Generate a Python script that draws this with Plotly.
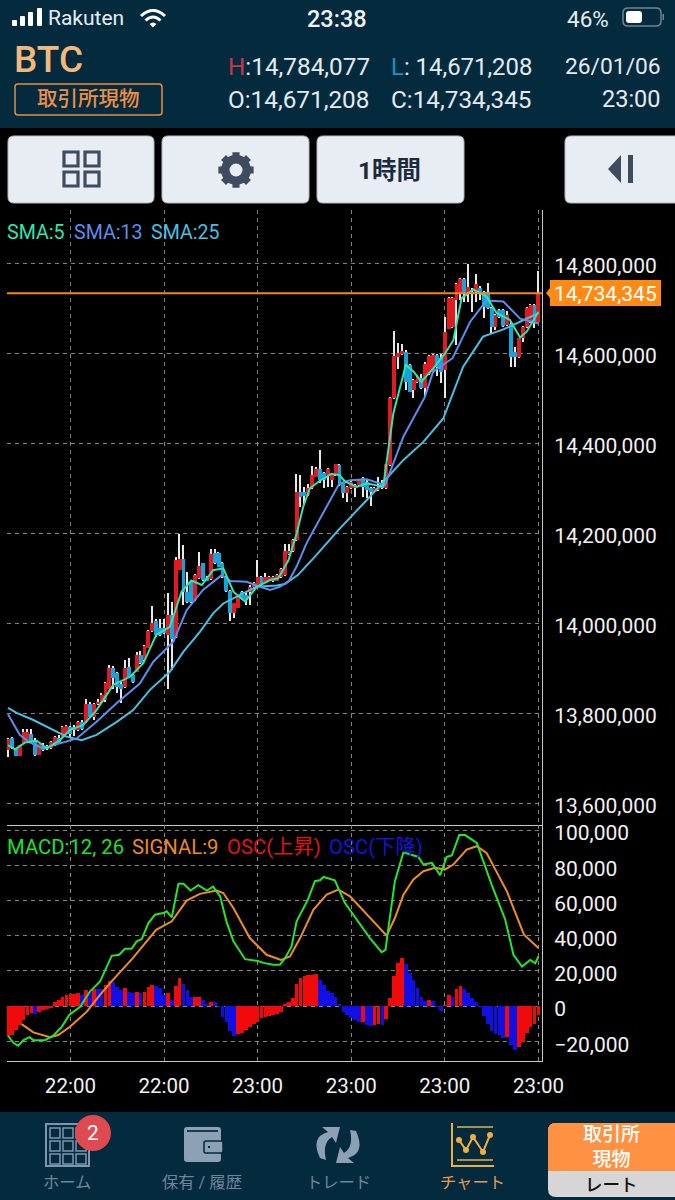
import math
import re

import numpy as np
import plotly.graph_objects as go

# candles, thousand yen
opens = [13719, 13745, 13723, 13706, 13734, 13741, 13756, 13741, 13708, 13728,
         13728, 13723, 13730, 13747, 13749, 13756, 13770, 13770, 13764, 13782,
         13782, 13821, 13793, 13821, 13827, 13830, 13856, 13901, 13890, 13867,
         13860, 13904, 13886, 13893, 13930, 13919, 13947, 13984, 14007, 13990,
         13990, 13975, 14019, 13971, 14119, 14144, 14071, 14093, 14053, 14101,
         14134, 14101, 14099, 14158, 14158, 14134, 14104, 14073, 14023, 14036,
         14071, 14064, 14071, 14082, 14086, 14104, 14093, 14096, 14095, 14096,
         14103, 14108, 14155, 14162, 14186, 14293, 14293, 14286, 14301, 14327,
         14344, 14334, 14330, 14319, 14330, 14353, 14312, 14290, 14301, 14301,
         14308, 14323, 14316, 14301, 14293, 14297, 14312, 14301, 14353, 14501,
         14593, 14599, 14604, 14575, 14519, 14538, 14545, 14523, 14556, 14560,
         14597, 14590, 14564, 14656, 14660, 14719, 14734, 14767, 14738, 14738,
         14738, 14745, 14738, 14738, 14701, 14659, 14697, 14697, 14664, 14667,
         14604, 14593, 14636, 14659, 14671, 14708, 14671.208]
closes = [13743, 13723, 13706, 13730, 13760, 13760, 13738, 13708, 13733, 13719,
          13721, 13738, 13749, 13736, 13771, 13773, 13756, 13764, 13782, 13765,
          13821, 13793, 13821, 13827, 13842, 13869, 13901, 13879, 13860, 13856,
          13902, 13882, 13871, 13930, 13912, 13950, 13984, 14001, 13975, 13975,
          13979, 14019, 13967, 14141, 14143, 14071, 14049, 14049, 14108, 14129,
          14097, 14097, 14156, 14134, 14127, 14104, 14073, 14023, 14045, 14060,
          14056, 14053, 14082, 14090, 14103, 14086, 14103, 14104, 14103, 14109,
          14121, 14162, 14162, 14185, 14293, 14282, 14284, 14301, 14330, 14344,
          14319, 14319, 14344, 14330, 14354, 14308, 14290, 14303, 14316, 14308,
          14319, 14303, 14297, 14293, 14301, 14304, 14301, 14354, 14501, 14595,
          14601, 14607, 14538, 14516, 14541, 14549, 14523, 14578, 14595, 14597,
          14571, 14560, 14649, 14723, 14723, 14756, 14767, 14734, 14749, 14734,
          14754, 14734, 14704, 14701, 14659, 14686, 14682, 14661, 14686, 14593,
          14593, 14634, 14659, 14701, 14708, 14671, 14734.345]
highs = [13745, 13749, 13723, 13731, 13767, 13767, 13767, 13745, 13733, 13734,
         13730, 13740, 13751, 13752, 13773, 13775, 13773, 13774, 13784, 13785,
         13832, 13825, 13823, 13832, 13845, 13871, 13908, 13905, 13893, 13870,
         13919, 13923, 13890, 13938, 13940, 13952, 13985, 14039, 14010, 14010,
         14010, 14069, 14049, 14149, 14199, 14175, 14116, 14095, 14110, 14160,
         14136, 14105, 14167, 14165, 14160, 14138, 14107, 14075, 14047, 14062,
         14073, 14071, 14085, 14093, 14141, 14107, 14112, 14106, 14105, 14111,
         14123, 14178, 14178, 14188, 14332, 14330, 14303, 14310, 14350, 14349,
         14387, 14338, 14347, 14333, 14356, 14356, 14315, 14306, 14318, 14311,
         14322, 14325, 14319, 14304, 14303, 14327, 14319, 14356, 14503, 14650,
         14623, 14621, 14608, 14578, 14544, 14552, 14556, 14581, 14597, 14599,
         14599, 14599, 14682, 14725, 14725, 14758, 14769, 14769, 14799, 14745,
         14777, 14750, 14740, 14758, 14703, 14688, 14700, 14700, 14695, 14670,
         14614, 14636, 14661, 14703, 14710, 14710, 14784.077]
lows = [13704, 13721, 13706, 13705, 13734, 13741, 13736, 13706, 13708, 13717,
        13720, 13722, 13729, 13733, 13748, 13755, 13749, 13750, 13762, 13763,
        13780, 13790, 13786, 13820, 13824, 13825, 13855, 13856, 13845, 13824,
        13858, 13880, 13868, 13892, 13910, 13917, 13945, 13982, 13971, 13973,
        13977, 13856, 13897, 13969, 14119, 14041, 14047, 14047, 14051, 14099,
        14095, 14094, 14097, 14132, 14125, 14102, 14071, 14006, 14013, 14034,
        14053, 14041, 14041, 14080, 14083, 14084, 14091, 14094, 14093, 14095,
        14101, 14106, 14153, 14160, 14184, 14260, 14267, 14284, 14299, 14325,
        14312, 14301, 14303, 14304, 14328, 14306, 14279, 14271, 14299, 14281,
        14306, 14281, 14279, 14261, 14291, 14295, 14299, 14299, 14351, 14499,
        14565, 14597, 14519, 14514, 14501, 14536, 14521, 14504, 14553, 14557,
        14550, 14534, 14501, 14654, 14658, 14619, 14719, 14716, 14716, 14693,
        14716, 14720, 14679, 14699, 14645, 14653, 14680, 14659, 14662, 14570,
        14570, 14591, 14627, 14657, 14669, 14658, 14671.208]

sma5_x = [0, 1.8, 4.4, 7.4, 9.9, 13.3, 15.9, 19.3, 22.7, 27, 31.3, 34.7, 38, 41.5, 44.5, 47, 49.7,
          52.6, 55.2, 57.8, 60.8, 63.8, 67.2, 69.3, 71.9, 74, 75.7, 77.4, 79.7, 82.9, 85, 86.4, 89.4,
          92, 96.2, 98.8, 102, 104, 106, 109, 112, 114.2, 116.3, 119.3, 122.7, 125.3, 128.7, 131.3,
          133, 136]
sma5 = [13730, 13721, 13736, 13740, 13723, 13741, 13764, 13775, 13808, 13864, 13882, 13912, 13975,
        13993, 14071, 14096, 14086, 14119, 14123, 14071, 14049, 14082, 14097, 14101, 14141, 14200,
        14260, 14301, 14316, 14333, 14330, 14316, 14304, 14312, 14304, 14467, 14575, 14560, 14538,
        14567, 14600, 14630, 14723, 14743, 14727, 14690, 14675, 14636, 14649, 14693]
sma13_x = [0, 3, 5.6, 9, 13.3, 17.6, 22.7, 27.9, 33.8, 37.3, 42.4, 45.8, 50, 54.8, 57, 61.2, 64.6,
           67.2, 69.7, 72, 74, 76.5, 78.5, 85, 87.7, 92, 96.7, 101.4, 106.9, 109, 114, 118.5, 122.7,
           127, 131.3, 136]
sma13 = [13799, 13753, 13736, 13723, 13734, 13745, 13782, 13824, 13867, 13916, 13960, 14030, 14075,
         14108, 14095, 14093, 14082, 14075, 14082, 14095, 14127, 14178, 14210, 14312, 14319, 14321,
         14308, 14416, 14504, 14560, 14590, 14671, 14718, 14716, 14678, 14667]
sma25_x = [0, 2.2, 6.5, 10.8, 15, 18.9, 22.7, 27.9, 32.1, 36.4, 41.5, 45, 49.2, 52.6, 55.2, 59.5,
           63.8, 68.9, 71, 74.3, 78.3, 84.7, 92, 101.4, 106.5, 111.6, 116.7, 121.8, 127, 131.3, 136]
sma25 = [13813, 13802, 13786, 13767, 13749, 13741, 13753, 13782, 13808, 13853, 13893, 13938, 13982,
         14023, 14045, 14064, 14082, 14085, 14088, 14108, 14145, 14208, 14275, 14364, 14404, 14456,
         14571, 14638, 14654, 14671, 14690]

macd_x = [0, 1.4, 2.6, 4, 5.5, 6.5, 9.5, 11.6, 13.8, 15.7, 18.5, 21, 23.6, 26.6, 28.5, 30, 31.7, 33,
          34.3, 36, 37.7, 39.8, 40.7, 42, 43.7, 45, 46.8, 48.8, 51, 52.6, 54.4, 56, 57.8, 60.8, 63.8,
          65.5, 68, 69.7, 71, 72.7, 74, 76.9, 78.7, 80, 80.9, 83.8, 86.4, 90.2, 92.8, 95.8, 96.8,
          97.3, 99.2, 101.4, 105.2, 106.5, 108.7, 110.8, 112.5, 113.8, 115.7, 117.2, 120.2, 124,
          127.5, 129.6, 131.8, 133.9, 135.2, 136]
macd = [-16900, -20900, -22600, -19400, -17700, -19400, -19400, -16900, -11800, -5100, -400, 8200,
        13900, 28500, 29100, 32500, 32500, 36700, 38000, 47100, 51900, 52800, 53800, 50400, 69500,
        69500, 65600, 68600, 65600, 67800, 62300, 48100, 36700, 26600, 25700, 24500, 23400, 23400,
        27000, 33800, 48100, 60400, 70900, 71400, 73300, 71400, 58500, 47100, 38600, 30600, 31900,
        40500, 70900, 87400, 84700, 80400, 81300, 74300, 84700, 85500, 97100, 97100, 92700, 69000,
        49000, 29100, 22400, 26200, 24300, 28100]
signal_x = [3.5, 6.5, 10.8, 12.9, 15.9, 20.2, 23.6, 26.9, 32, 38, 42, 45.8, 49.2, 53.5, 55.2, 57.8,
            62, 66.3, 70, 72.3, 74.9, 78.3, 81.7, 84.7, 87.7, 92, 97.1, 99.2, 101.4, 103.9, 106.5,
            109.5, 112, 114.2, 117.6, 120.2, 122.7, 127.9, 132.3, 136]
signal = [-10300, -15000, -17700, -16500, -11800, -3200, 6300, 14800, 27200, 43300, 48100, 59900,
          63700, 65600, 64200, 55700, 38600, 29100, 26200, 28100, 38600, 54700, 63300, 66100, 62300,
          51900, 39900, 50000, 63300, 71800, 76600, 78500, 77500, 80400, 88900, 90800, 87000, 65200,
          40500, 32900]
osc = [-17000, -16500, -13700, -10800, -8000, -5100, -4200, -4700, -3200, -2500,
       -1900, -600, 2000, 3400, 5300, 6300, 6600, 7000, 7200, 6300,
       9100, 8200, 9700, 9700, 9700, 12000, 14200, 13900, 11000, 9100,
       10000, 7800, 7600, 8200, 7600, 8200, 11000, 12000, 11200, 10000,
       6300, 7600, 3400, 11400, 15800, 12300, 9100, 4900, 4900, 5300,
       3400, 950, 2500, 2100, -400, -6000, -8900, -14200, -17000, -16100,
       -15600, -13700, -11800, -10500, -8900, -7000, -6100, -5500, -5100, -4700,
       -3200, 600, 2500, 4700, 12300, 16100, 16900, 17500, 17900, 18000,
       14800, 12000, 8700, 7200, 5300, 950, -3200, -5100, -7000, -8000,
       -9300, -8900, -10800, -11400, -10800, -10500, -10800, -7400, 4400, 17300,
       24300, 27200, 23800, 18600, 14800, 10100, 5300, 3000, 3400, 3000,
       -300, -2900, 300, 6300, 5300, 9500, 11200, 9700, 7200, 4400,
       2100, -400, -5700, -10300, -14200, -16100, -16500, -18000, -17500, -22200,
       -25000, -23200, -20300, -15600, -11800, -10300, -5100]
osc_dir = ("UUUUUUUDUU" "UUUUUUUUUD" "UDUDDUUDDD" "UDDUDUUUDD" "DUDUUDDDUU" "DDUDDDDDDU"
           "UUUUUUUUUU" "UUUUUUUUUU" "DDDDDDDDDD" "DUDDUUDUUU" "UUDDDDDDUD" "DDUUDUUDDD"
           "DDDDDDDDUD" "DUUUUUU")

time_ticks = [16, 40, 64, 88, 112, 136]
time_labels = ["22:00", "22:00", "23:00", "23:00", "23:00", "23:00"]
price_ticks = [13600000, 13800000, 14000000, 14200000, 14400000, 14600000, 14800000]
macd_ticks = [-20000, 0, 20000, 40000, 60000, 80000, 100000]

FONT = "Roboto, 'Noto Sans CJK JP'"
W, H = 675, 1200
NAVY = "#042a3d"
BTN = "#e8edf3"
ICON = "#3f4b5e"
MUTED = "#8ca0b6"
GRID = "#858585"

x = np.arange(len(opens))
o, c, hi, lo = [np.array(a) * 1000.0 for a in (opens, closes, highs, lows)]


def to_paper(path):
    # path is written in page pixels, shapes want paper coordinates
    n = [0]

    def conv(m):
        v = float(m.group())
        n[0] += 1
        return f"{v / W:.5f}" if n[0] % 2 else f"{1 - v / H:.5f}"

    return re.sub(r"-?\d+\.?\d*", conv, path)


def rrect(x0, y0, x1, y1, r):
    return (f"M {x0 + r} {y0} L {x1 - r} {y0} Q {x1} {y0} {x1} {y0 + r} L {x1} {y1 - r} "
            f"Q {x1} {y1} {x1 - r} {y1} L {x0 + r} {y1} Q {x0} {y1} {x0} {y1 - r} "
            f"L {x0} {y0 + r} Q {x0} {y0} {x0 + r} {y0} Z")


shapes = []
annotations = []


def draw(path, fill=None, line=None, width=1):
    shapes.append(dict(type="path", xref="paper", yref="paper", path=to_paper(path),
                       fillcolor=fill or "rgba(0,0,0,0)",
                       line=dict(color=line or "rgba(0,0,0,0)", width=width if line else 0)))


def box(x0, y0, x1, y1, fill=None, line=None, width=1, r=0):
    if r:
        draw(rrect(x0, y0, x1, y1, r), fill, line, width)
    else:
        draw(f"M {x0} {y0} L {x1} {y0} L {x1} {y1} L {x0} {y1} Z", fill, line, width)


def label(px, py, text, size, color, anchor="left", weight=400):
    # annotations keep a small pad around the text
    pad = {"left": -2, "right": 2, "center": 0}[anchor]
    annotations.append(dict(x=(px + pad) / W, y=1 - py / H, xref="paper", yref="paper", text=text,
                            showarrow=False, xanchor=anchor, yanchor="middle", borderpad=0,
                            font=dict(family=FONT, size=size, color=color, weight=weight)))


# header / footer bands
box(0, 0, W, 128, fill=NAVY)
box(0, 1112, W, H, fill=NAVY)

# status bar
for bx, top in zip([12, 20, 28, 37], [20, 16, 12, 8]):
    box(bx, top, bx + 5, 26, fill="#ffffff", r=1)
label(49, 18, "Rakuten", 21, "#e6edf3")
draw("M 141 16 Q 153 5 165 16", line="#ffffff", width=3)
draw("M 145.5 20.5 Q 153 13.5 160.5 20.5", line="#ffffff", width=3)
draw("M 149.5 24 L 153 27.5 L 156.5 24 Q 153 21 149.5 24 Z", fill="#ffffff")
label(337, 19, "23:38", 23.5, "#f0f4f7", "center", weight=500)
label(568, 19, "46%", 22.5, "#e6edf3")
box(623, 8, 661, 26, line="#6f8494", width=1.5, r=5)
box(626, 11, 642, 23, fill="#ffffff", r=3)
box(662.5, 14, 664, 20, fill="#6f8494")

# instrument header
label(15, 59, "BTC", 37, "#f3b97c", weight=500)
box(15, 84, 162, 115, line="#e98d45", width=1.5, r=3)
label(88.5, 99, "取引所現物", 20.5, "#ee8f45", "center", weight=500)
label(229, 66.5, '<span style="color:#c13a4c">H</span>:14,784,077', 24.3, "#e4eaf0")
label(392, 66.5, '<span style="color:#1f8fbd">L</span>: 14,671,208', 23.9, "#e4eaf0")
label(660, 66.5, "26/01/06", 22.8, "#e4eaf0", "right")
label(229, 99.5, "O:14,671,208", 24.3, "#e4eaf0")
label(392, 99.5, "C:14,734,345", 24.3, "#e4eaf0")
label(660, 99.5, "23:00", 23.5, "#e4eaf0", "right")

# toolbar buttons
for x0, x1 in [(8, 154), (162, 309), (317, 464), (565, 690)]:
    box(x0, 136, x1, 203, fill=BTN, line="#b4bac2", width=1, r=6)
for sx in (64, 85):
    for sy in (152, 172):
        box(sx, sy, sx + 14, sy + 14, line=ICON, width=3.2)
gear = []
for k in range(8):
    a = k * math.pi / 4
    for da, rad in [(-0.27, 13), (-0.2, 18), (0.2, 18), (0.27, 13)]:
        gear.append((236 + rad * math.cos(a + da), 170 + rad * math.sin(a + da)))
draw("M " + " L ".join(f"{gx:.2f} {gy:.2f}" for gx, gy in gear) + " Z", fill=ICON)
shapes.append(dict(type="circle", xref="paper", yref="paper", x0=229.5 / W, x1=242.5 / W,
                   y0=1 - 176.5 / H, y1=1 - 163.5 / H, fillcolor=BTN, line=dict(width=0)))
shapes.append(dict(type="circle", xref="paper", yref="paper", x0=223 / W, x1=249 / W,
                   y0=1 - 183 / H, y1=1 - 157 / H, fillcolor="rgba(0,0,0,0)", line=dict(color=ICON, width=4)))
label(390, 171, "1時間", 24.5, "#1c2b40", "center", weight=700)
draw("M 621 155 L 608 169 L 621 183 Z", fill=ICON)
box(628, 155, 633, 183, fill=ICON)

# legends
label(8, 232.5, "SMA:5", 19.6, "#2fe6b0")
label(75, 232.5, "SMA:13", 19.6, "#5a8fee")
label(152, 232.5, "SMA:25", 19.6, "#45c1e4")
label(8, 847, "MACD:12, 26", 20.3, "#20e02a")
label(133, 847, "SIGNAL:9", 20.3, "#ec8a24")
label(228, 847, "OSC(上昇)", 20.3, "#e01414")
label(330, 847, "OSC(下降)", 20.3, "#1414d8")

# last price line and tag
shapes.append(dict(type="line", xref="x", yref="y", x0=-0.25, x1=136.9, y0=c[-1], y1=c[-1],
                   line=dict(color="#f5841f", width=1.8)))
draw("M 546 293 L 550 288 L 550 280 L 661 280 L 661 306 L 550 306 L 550 298 Z", fill="#ff8a14")
label(555, 293.5, f"{c[-1]:,.0f}", 21, "#ffffff")

# bottom nav
NAV_LABEL = "#6f8599"
box(46, 1124, 89, 1166, line="#7f97ad", width=2)
for gx in (50, 63, 76):
    for gy in (1128, 1141, 1154):
        box(gx, gy, gx + 10, gy + 10, line="#7f97ad", width=1.5)
shapes.append(dict(type="circle", xref="paper", yref="paper", x0=75 / W, x1=111 / W,
                   y0=1 - 1151 / H, y1=1 - 1115 / H, fillcolor="#df4a50", line=dict(width=0)))
label(93, 1133, "2", 21, "#ffffff", "center")
label(67, 1182, "ホーム", 16.3, NAV_LABEL, "center")
box(184, 1127, 221, 1162, fill=MUTED, r=3)
box(187, 1130, 218, 1132, fill="#1d3a50")
box(204, 1141, 223, 1153, fill=MUTED, line=NAVY, width=1.5, r=2)
box(208, 1146, 210, 1148, fill=NAVY)
label(202, 1182, "保有 / 履歴", 16.3, NAV_LABEL, "center")
draw("M 320 1158 Q 310 1137 328 1132 L 322 1127 L 340 1127 L 336 1143 L 332 1137 Q 322 1143 326 1160 Z", fill=MUTED)
draw("M 356 1131 Q 366 1153 348 1158 L 354 1163 L 336 1163 L 340 1147 L 344 1153 Q 354 1147 350 1130 Z", fill=MUTED)
label(338, 1182, "トレード", 16.3, NAV_LABEL, "center")
draw("M 452 1123 L 452 1166 L 494 1166", line="#efae42", width=2)
draw("M 457 1127 L 493 1127", line="#efae42", width=1.5)
draw("M 457 1160 L 493 1160", line="#efae42", width=1.5)
draw("M 459 1140 L 466 1150 L 473 1137 L 483 1152 L 490 1135", line="#efae42", width=2)
for dx, dy in [(459, 1140), (466, 1150), (473, 1137), (483, 1152), (490, 1135)]:
    shapes.append(dict(type="circle", xref="paper", yref="paper", x0=(dx - 3) / W, x1=(dx + 3) / W,
                       y0=1 - (dy + 3) / H, y1=1 - (dy - 3) / H, fillcolor="#efae42", line=dict(width=0)))
label(472, 1182, "チャート", 16.3, "#e89a4e", "center")
box(548, 1123, 690, 1197, fill="#d6d6d6", r=8)
draw("M 548 1171 L 548 1131 Q 548 1123 556 1123 L 690 1123 L 690 1171 Z", fill="#ff9142")
label(611, 1147, "取引所<br>現物", 19, "#ffffff", "center", weight=500)
label(611, 1185, "レート", 17.5, "#111111", "center", weight=500)

fig = go.Figure()

# wicks first, bodies on top
fig.add_trace(go.Bar(x=x, y=hi - lo, base=lo, width=0.36, marker=dict(color="#e8e8e8", line=dict(width=0)),
                     xaxis="x", yaxis="y", showlegend=False))
fig.add_trace(go.Bar(x=x, y=np.abs(c - o), base=np.minimum(o, c), width=1.0,
                     marker=dict(color=["#e01a1e" if b >= a else "#16a3dc" for a, b in zip(o, c)],
                                 line=dict(width=0)),
                     xaxis="x", yaxis="y", showlegend=False))

for xs, ys, col in [(sma25_x, sma25, "#45c1e4"), (sma13_x, sma13, "#5a8fee"), (sma5_x, sma5, "#2fe6b0")]:
    fig.add_trace(go.Scatter(x=xs, y=np.array(ys) * 1000.0, mode="lines", line=dict(color=col, width=2),
                             xaxis="x", yaxis="y", showlegend=False))

fig.add_trace(go.Bar(x=x, y=osc, width=0.95,
                     marker=dict(color=["#f00a0a" if d == "U" else "#1010e6" for d in osc_dir],
                                 line=dict(width=0)),
                     xaxis="x2", yaxis="y2", showlegend=False))
fig.add_trace(go.Scatter(x=signal_x, y=signal, mode="lines", line=dict(color="#ef8d22", width=2),
                         xaxis="x2", yaxis="y2", showlegend=False))
fig.add_trace(go.Scatter(x=macd_x, y=macd, mode="lines", line=dict(color="#22e628", width=2),
                         xaxis="x2", yaxis="y2", showlegend=False))

x_axis = dict(range=[-0.256, 136.92], domain=[7 / W, 542 / W], tickmode="array", tickvals=time_ticks,
              ticktext=time_labels, showgrid=True, gridcolor=GRID, griddash="4px,4px", gridwidth=1,
              zeroline=False, showline=True, linecolor="#c8c8c8", linewidth=1)
y_axis = dict(side="right", tickmode="array", showgrid=True, gridcolor=GRID, griddash="4px,4px",
              gridwidth=1, zeroline=False, tickformat=",d", ticks="outside", ticklen=7,
              tickcolor="rgba(0,0,0,0)", showline=True, linecolor="#c8c8c8", linewidth=1,
              tickfont=dict(family=FONT, size=21, color="#f2f2f2"))

fig.update_layout(
    width=W, height=H, autosize=False, margin=dict(l=0, r=0, t=0, b=0, autoexpand=False),
    paper_bgcolor="#000000", plot_bgcolor="#000000", barmode="overlay", bargap=0, showlegend=False,
    shapes=shapes, annotations=annotations,
    xaxis=dict(x_axis, anchor="y", showticklabels=False, ticks=""),
    xaxis2=dict(x_axis, anchor="y2", ticks="outside", ticklen=6, tickcolor="rgba(0,0,0,0)",
                tickfont=dict(family=FONT, size=20.5, color="#f2f2f2")),
    yaxis=dict(y_axis, anchor="x", domain=[1 - 825 / H, 1 - 210 / H], range=[13552667, 14919333],
               tickvals=price_ticks, ticklabelshift=2),
    yaxis2=dict(y_axis, anchor="x2", domain=[1 - 1061 / H, 1 - 825 / H], range=[-31250, 102841],
                tickvals=macd_ticks, ticklabelshift=3),
)

fig.write_html("out.html", config=dict(displayModeBar=False),
               post_script="document.body.style.margin='0';")
